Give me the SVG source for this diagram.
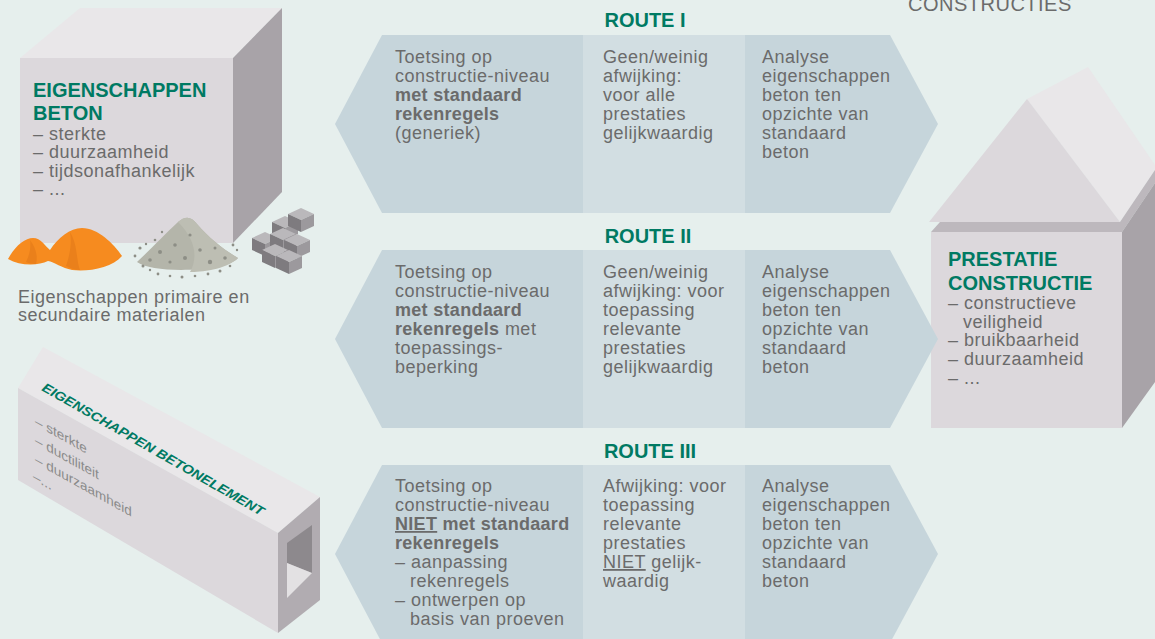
<svg xmlns="http://www.w3.org/2000/svg" xmlns:xlink="http://www.w3.org/1999/xlink" width="1155" height="639" viewBox="0 0 1155 639">
<defs>
<style>
.bg{fill:#e6efed}
.t{font-family:"Liberation Sans",Arial,sans-serif;font-size:18px;fill:#6b6b6b;letter-spacing:0.5px}
.b{font-weight:bold;letter-spacing:0.3px}
.h{font-family:"Liberation Sans",Arial,sans-serif;font-size:20px;font-weight:bold;fill:#007a63}
.rt{font-family:"Liberation Sans",Arial,sans-serif;font-size:20px;font-weight:bold;fill:#007a63;text-anchor:middle}
.col{fill:#c6d5db}
.mid{fill:#d2dee2}
.front{fill:#dcd8dc}
.top{fill:#e9e7e9}
.side{fill:#a8a3a8}
.u{text-decoration:underline}
.sm{font-family:"Liberation Sans",Arial,sans-serif;font-size:13.5px;fill:#8a8a8a}
</style>
<g id="blk">
<polygon points="0,0 13,-6 26,0 13,6" fill="#bab8bb"/>
<polygon points="0,0 13,6 13,18 0,12" fill="#7e7b7f"/>
<polygon points="13,6 26,0 26,12 13,18" fill="#9c999d"/>
</g>
</defs>
<rect class="bg" x="0" y="0" width="1155" height="639"/>

<text class="t" x="908" y="11" style="font-size:20px">CONSTRUCTIES</text>

<!-- Left cube: Eigenschappen beton -->
<g id="cube-beton">
<polygon class="top" points="20,58 80,8 282,8 233,58"/>
<polygon class="side" points="233,58 282,8 282,192 233,243"/>
<polygon class="front" points="20,58 233,58 233,243 20,243"/>
<text class="h" x="33" y="97">EIGENSCHAPPEN</text>
<text class="h" x="33" y="120">BETON</text>
<text class="t" x="33" y="140">– sterkte</text>
<text class="t" x="33" y="158">– duurzaamheid</text>
<text class="t" x="33" y="177">– tijdsonafhankelijk</text>
<text class="t" x="33" y="195">– ...</text>
</g>

<!-- Materials -->
<g id="materials">
<path d="M8,259 C15,246 25,238 33,238 C41,238 45,246 50,250 C58,238 70,228 82,228 C98,228 114,244 122,256 C112,268 88,272 72,270 C62,268 54,262 48,261 C38,266 20,266 8,259 Z" fill="#f68b1f"/>
<path d="M70,232 C78,245 76,260 80,270 C74,270 70,268 66,266 C70,255 72,242 70,232 Z" fill="#ea801b"/>
<path d="M30,240 C36,248 38,256 36,264 C32,264 28,263 26,262 C30,254 31,246 30,240 Z" fill="#ea801b"/>
<path d="M137,262 C150,250 165,234 178,222 C185,216 191,216 197,224 C209,238 224,250 238,258 C226,272 152,274 137,262 Z" fill="#b4b5aa"/>
<path d="M178,222 C185,216 191,216 197,224 C209,238 224,250 238,258 C226,270 200,272 190,272 C198,258 196,240 178,222 Z" fill="#bdbeb3"/>
<g fill="#8d8e86">
<circle cx="140" cy="248" r="1.6"/><circle cx="146" cy="244" r="1.2"/><circle cx="135" cy="256" r="1.4"/><circle cx="143" cy="266" r="1.5"/><circle cx="150" cy="270" r="1.2"/><circle cx="158" cy="274" r="1.4"/><circle cx="170" cy="276" r="1.3"/><circle cx="182" cy="277" r="1.5"/><circle cx="195" cy="276" r="1.3"/><circle cx="208" cy="274" r="1.4"/><circle cx="220" cy="271" r="1.5"/><circle cx="230" cy="266" r="1.3"/><circle cx="237" cy="250" r="1.2"/><circle cx="233" cy="245" r="1.4"/><circle cx="155" cy="240" r="1.3"/><circle cx="162" cy="232" r="1.2"/>
<circle cx="160" cy="252" r="2"/><circle cx="175" cy="245" r="1.8"/><circle cx="185" cy="258" r="2"/><circle cx="200" cy="250" r="1.8"/><circle cx="210" cy="262" r="2.2"/><circle cx="170" cy="262" r="1.6"/><circle cx="190" cy="235" r="1.6"/><circle cx="215" cy="248" r="1.5"/><circle cx="225" cy="258" r="1.8"/><circle cx="150" cy="260" r="1.8"/>
</g>
<use xlink:href="#blk" x="272" y="222"/>
<use xlink:href="#blk" x="288" y="214"/>
<use xlink:href="#blk" x="252" y="238"/>
<use xlink:href="#blk" x="270" y="234"/>
<use xlink:href="#blk" x="284" y="240"/>
<use xlink:href="#blk" x="262" y="250"/>
<use xlink:href="#blk" x="276" y="256"/>
</g>

<!-- Beam: Eigenschappen betonelement -->
<g id="beam">
<polygon class="top" points="18,388 43,347 320,497 278,533"/>
<polygon class="front" points="18,388 278,533 278,633 18,480"/>
<polygon fill="#b1acb1" points="278,533 320,497 320,600 278,633"/>
<polygon fill="#8d898d" points="287,543 312,525 312,573 287,563"/>
<polygon fill="#e3e1e3" points="287,563 312,573 287,598"/>
<text class="h" style="font-size:12.8px;font-style:italic" transform="matrix(1,0.573,-0.52,0.85,41,390)">EIGENSCHAPPEN BETONELEMENT</text>
<g transform="matrix(1,0.558,0,1,35,0)">
<text class="sm" x="0" y="425">– sterkte</text>
<text class="sm" x="0" y="444">– ductiliteit</text>
<text class="sm" x="0" y="463">– duurzaamheid</text>
<text class="sm" x="-2" y="481">–...</text>
</g>
</g>

<!-- House: Prestatie constructie -->
<g id="house">
<polygon class="top" points="1027,99 1088,67 1155,165 1155,170 1120,222"/>
<polygon class="front" points="929,222 1027,99 1120,222"/>
<polygon fill="#bdb8bd" points="931,232 940,222 1120,222 1155,170 1155,183 1122,232"/>
<polygon class="side" points="1122,232 1155,183 1155,382 1122,428"/>
<polygon class="front" points="931,232 1122,232 1122,428 931,428"/>
<text class="h" x="948" y="266">PRESTATIE</text>
<text class="h" x="948" y="290">CONSTRUCTIE</text>
<text class="t" x="948" y="309">– constructieve</text>
<text class="t" x="963" y="328">veiligheid</text>
<text class="t" x="948" y="346">– bruikbaarheid</text>
<text class="t" x="948" y="365">– duurzaamheid</text>
<text class="t" x="948" y="384">– ...</text>
</g>

<!-- Routes -->
<g id="route1">
<text class="rt" x="645" y="27">ROUTE I</text>
<polygon class="col" points="335,124 382,35 583,35 583,213 382,213"/>
<rect class="mid" x="583" y="35" width="162" height="178"/>
<polygon class="col" points="745,35 890,35 938,124 890,213 745,213"/>
<text class="t" x="395" y="63">Toetsing op</text>
<text class="t" x="395" y="82">constructie-niveau</text>
<text class="t b" x="395" y="101">met standaard</text>
<text class="t b" x="395" y="120">rekenregels</text>
<text class="t" x="395" y="139">(generiek)</text>
<text class="t" x="603" y="63">Geen/weinig</text>
<text class="t" x="603" y="82">afwijking:</text>
<text class="t" x="603" y="101">voor alle</text>
<text class="t" x="603" y="120">prestaties</text>
<text class="t" x="603" y="139">gelijkwaardig</text>
<text class="t" x="762" y="63">Analyse</text>
<text class="t" x="762" y="82">eigenschappen</text>
<text class="t" x="762" y="101">beton ten</text>
<text class="t" x="762" y="120">opzichte van</text>
<text class="t" x="762" y="139">standaard</text>
<text class="t" x="762" y="158">beton</text>
</g>

<g id="route2">
<text class="rt" x="648" y="243">ROUTE II</text>
<polygon class="col" points="335,339 382,250 583,250 583,428 382,428"/>
<rect class="mid" x="583" y="250" width="162" height="178"/>
<polygon class="col" points="745,250 890,250 938,339 890,428 745,428"/>
<text class="t" x="395" y="278">Toetsing op</text>
<text class="t" x="395" y="297">constructie-niveau</text>
<text class="t b" x="395" y="316">met standaard</text>
<text class="t" x="395" y="335"><tspan class="b">rekenregels</tspan> met</text>
<text class="t" x="395" y="354">toepassings-</text>
<text class="t" x="395" y="373">beperking</text>
<text class="t" x="603" y="278">Geen/weinig</text>
<text class="t" x="603" y="297">afwijking: voor</text>
<text class="t" x="603" y="316">toepassing</text>
<text class="t" x="603" y="335">relevante</text>
<text class="t" x="603" y="354">prestaties</text>
<text class="t" x="603" y="373">gelijkwaardig</text>
<text class="t" x="762" y="278">Analyse</text>
<text class="t" x="762" y="297">eigenschappen</text>
<text class="t" x="762" y="316">beton ten</text>
<text class="t" x="762" y="335">opzichte van</text>
<text class="t" x="762" y="354">standaard</text>
<text class="t" x="762" y="373">beton</text>
</g>

<g id="route3">
<text class="rt" x="650" y="458">ROUTE III</text>
<polygon class="col" points="335,554 382,465 583,465 583,643 382,643"/>
<rect class="mid" x="583" y="465" width="162" height="178"/>
<polygon class="col" points="745,465 890,465 938,554 890,643 745,643"/>
<text class="t" x="395" y="492">Toetsing op</text>
<text class="t" x="395" y="511">constructie-niveau</text>
<text class="t b" x="395" y="530"><tspan class="u">NIET</tspan> met standaard</text>
<text class="t b" x="395" y="549">rekenregels</text>
<text class="t" x="395" y="568">– aanpassing</text>
<text class="t" x="410" y="587">rekenregels</text>
<text class="t" x="395" y="606">– ontwerpen op</text>
<text class="t" x="410" y="625">basis van proeven</text>
<text class="t" x="603" y="492">Afwijking: voor</text>
<text class="t" x="603" y="511">toepassing</text>
<text class="t" x="603" y="530">relevante</text>
<text class="t" x="603" y="549">prestaties</text>
<text class="t" x="603" y="568"><tspan class="u">NIET</tspan> gelijk-</text>
<text class="t" x="603" y="587">waardig</text>
<text class="t" x="762" y="492">Analyse</text>
<text class="t" x="762" y="511">eigenschappen</text>
<text class="t" x="762" y="530">beton ten</text>
<text class="t" x="762" y="549">opzichte van</text>
<text class="t" x="762" y="568">standaard</text>
<text class="t" x="762" y="587">beton</text>
</g>

<text class="t" x="18" y="303">Eigenschappen primaire en</text>
<text class="t" x="18" y="321">secundaire materialen</text>

<g id="connectors"></g>
</svg>
